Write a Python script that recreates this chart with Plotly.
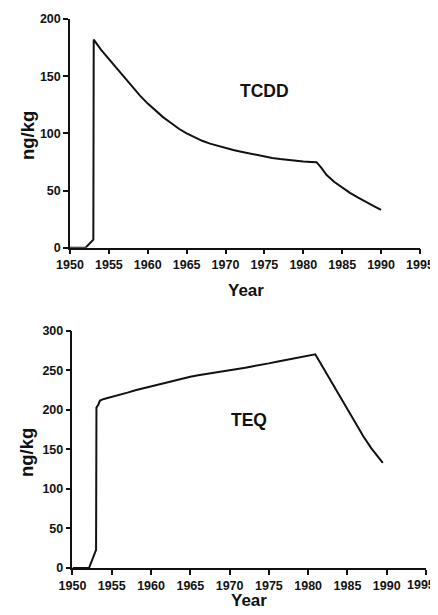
import plotly.graph_objects as go

# TCDD (top panel)
tcdd_years = [1950, 1952.0, 1953.0, 1953.05, 1954, 1955, 1956, 1957, 1958, 1959, 1960,
              1961, 1962, 1963, 1964, 1965, 1966, 1967, 1968, 1969, 1970,
              1971, 1972, 1973, 1974, 1975, 1976, 1977, 1978, 1979, 1980,
              1981, 1981.7, 1982.3, 1983, 1984, 1985, 1986, 1987, 1988, 1989, 1990]
tcdd_values = [0, 0, 7, 182, 173, 165, 156, 148, 140, 133, 126,
               120, 114, 109, 104, 100, 96.5, 93.5, 91, 89, 87,
               85.5, 84, 82.5, 81, 79.5, 78.5, 77.5, 76.7, 76, 75.4,
               75, 74.8, 70, 63.5, 57.5, 52.5, 48, 44, 40, 36.5, 33]

# TEQ (bottom panel)
teq_years = [1950, 1952.1, 1953.0, 1953.05, 1953.3, 1953.5, 1954, 1955, 1956, 1957,
             1958, 1959, 1960, 1961, 1962, 1963, 1964, 1965, 1966, 1967, 1968,
             1969, 1970, 1971, 1972, 1973, 1974, 1975, 1976, 1977, 1978, 1979,
             1980, 1980.9, 1981.5, 1982, 1983, 1984, 1985, 1986, 1987, 1988,
             1989, 1989.5]
teq_values = [0, 0, 23, 203, 207, 212, 214, 216.5, 219.5, 222,
              225, 227.5, 230, 232.5, 235, 237.5, 240, 242, 244, 245.5, 247,
              248.5, 250, 252, 253.5, 255.5, 257, 259, 261, 263, 265, 267,
              269, 270.5, 260.5, 252, 235, 218, 201, 184, 167, 152,
              140, 133]

x_ticks = [1950, 1955, 1960, 1965, 1970, 1975, 1980, 1985, 1990, 1995]
x_ticktext = [str(v) for v in x_ticks]
y_ticks_top = [0, 50, 100, 150, 200]
y_ticks_bottom = [0, 50, 100, 150, 200, 250, 300]

FONT = "Liberation Sans Narrow, Arial Narrow, Liberation Sans, Arial, sans-serif"
INK = "#111111"

fig = go.Figure()
fig.add_trace(go.Scatter(x=tcdd_years, y=tcdd_values, mode="lines",
                         line=dict(color=INK, width=2),
                         xaxis="x", yaxis="y", showlegend=False))
fig.add_trace(go.Scatter(x=teq_years, y=teq_values, mode="lines",
                         line=dict(color=INK, width=2),
                         xaxis="x2", yaxis="y2", showlegend=False))

tick_font = dict(family=FONT, size=12.5, color=INK, weight="bold")
axis_common = dict(showgrid=False, zeroline=False, showline=True, automargin=False,
                   linecolor=INK, linewidth=1.5, ticklabeloverflow="allow",
                   ticks="outside", ticklen=5, tickwidth=1.5, tickcolor=INK,
                   tickfont=tick_font)

title_font = dict(family=FONT, size=17, color=INK, weight="bold")
ytitle_font = dict(family=FONT, size=18.5, color=INK, weight="bold")
label_font = dict(family=FONT, size=17.5, color=INK, weight="bold")

# bottom axis: last label drawn as an annotation so it stays inside the page
bottom_ticktext = x_ticktext[:-1] + [""]

# The page body adds an 8px offset, so the figure is 430x607 inside a 438x615 window
fig.update_layout(
    width=430, height=607,
    margin=dict(l=62, r=12, t=11, b=47, autoexpand=False),
    paper_bgcolor="white", plot_bgcolor="white",
    xaxis=dict(domain=[0, 0.983], range=[1950, 1995], tickvals=x_ticks,
               ticktext=x_ticktext, anchor="y", **axis_common),
    yaxis=dict(domain=[0.5834, 1.0], range=[0, 200], tickvals=y_ticks_top,
               anchor="x", **axis_common),
    xaxis2=dict(domain=[0.007, 1.0], range=[1950, 1995], tickvals=x_ticks,
                ticktext=bottom_ticktext, anchor="y2", **axis_common),
    yaxis2=dict(domain=[0.0, 0.4317], range=[0, 300], tickvals=y_ticks_bottom,
                anchor="x2", **axis_common),
    annotations=[
        dict(x=1975, y=137, xref="x", yref="y", text="TCDD", showarrow=False,
             font=label_font),
        dict(x=1972.5, y=187, xref="x2", yref="y2", text="TEQ", showarrow=False,
             font=label_font),
        dict(x=x_ticks[-1], y=-0.031, xref="x2", yref="paper", text=x_ticktext[-1],
             showarrow=False, font=tick_font, xanchor="right", yanchor="middle",
             xshift=11),
        # axis titles
        dict(x=0.493, y=0.5046, xref="paper", yref="paper", text="Year",
             showarrow=False, font=title_font, xanchor="center", yanchor="middle"),
        dict(x=0.504, y=-0.0583, xref="paper", yref="paper", text="Year",
             showarrow=False, font=title_font, xanchor="center", yanchor="middle"),
        dict(x=-0.1208, y=0.7887, xref="paper", yref="paper", text="ng/kg",
             textangle=-90, showarrow=False, font=ytitle_font,
             xanchor="center", yanchor="middle"),
        dict(x=-0.1208, y=0.2113, xref="paper", yref="paper", text="ng/kg",
             textangle=-90, showarrow=False, font=ytitle_font,
             xanchor="center", yanchor="middle"),
    ],
)

fig.write_html("out.html")
